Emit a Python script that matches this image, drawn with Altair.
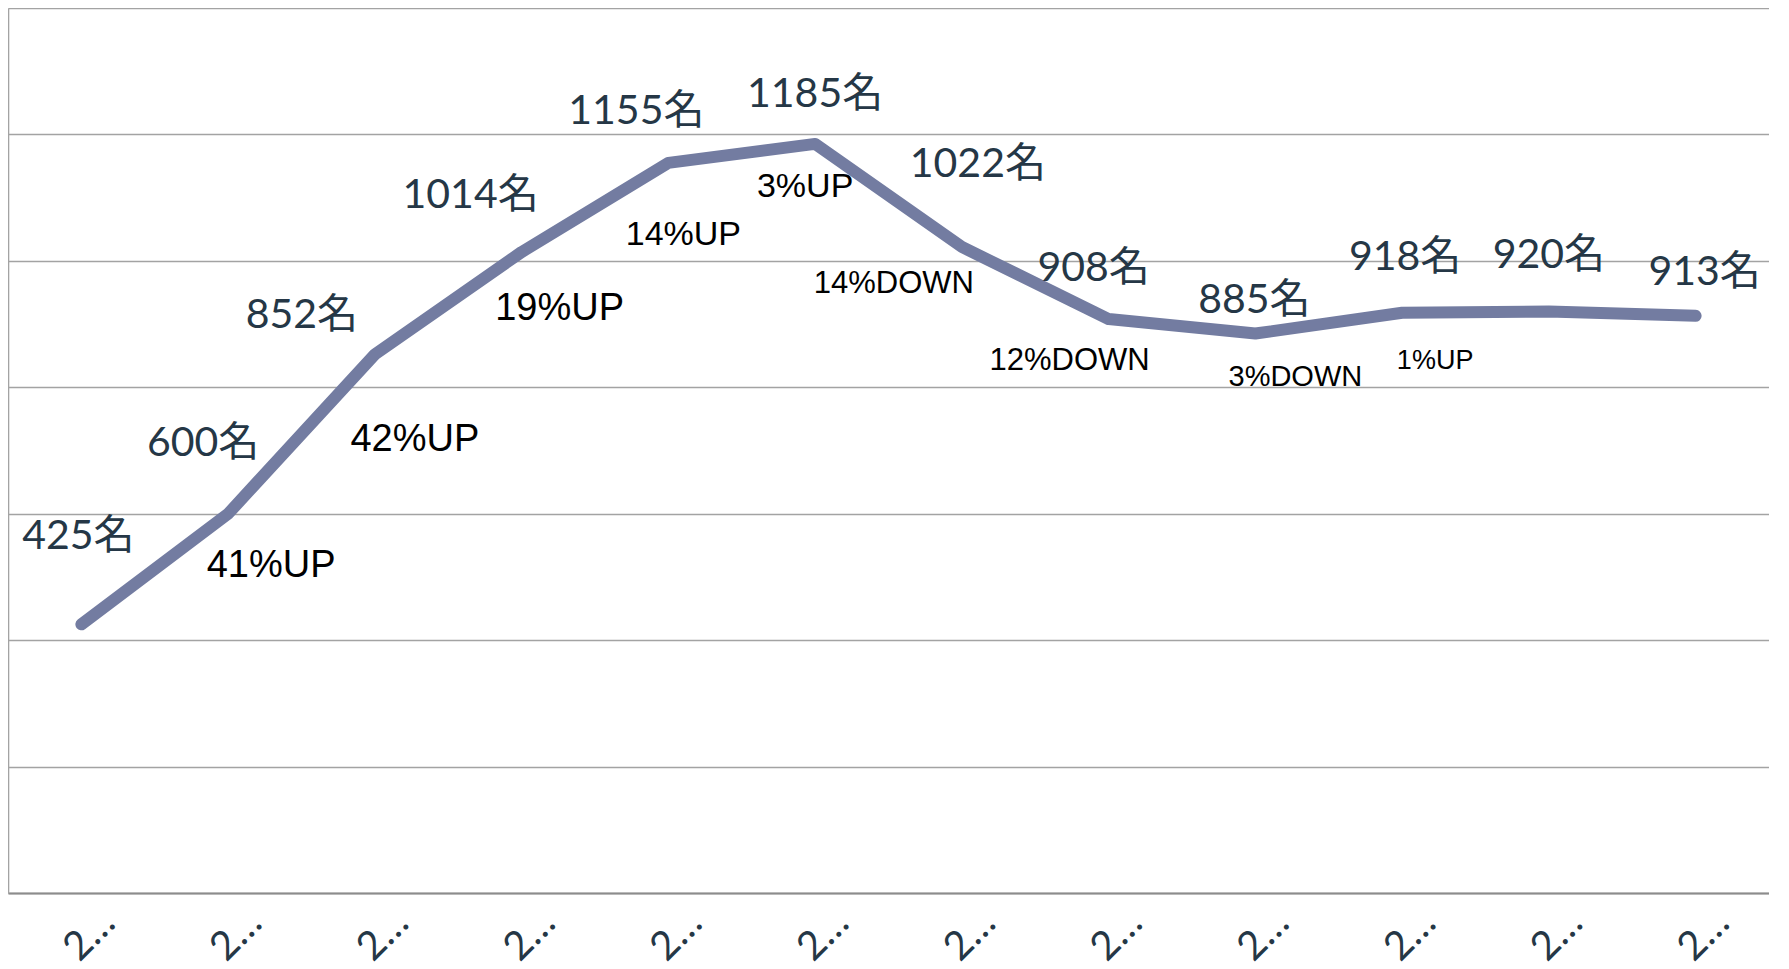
import altair as alt
import pandas as pd

# ---- data ----
years = ["2011年", "2012年", "2013年", "2014年", "2015年", "2016年",
         "2017年", "2018年", "2019年", "2020年", "2021年", "2022年"]
members = [425, 600, 852, 1014, 1155, 1185, 1022, 908, 885, 918, 920, 913]
changes = ["", "41%UP", "42%UP", "19%UP", "14%UP", "3%UP",
           "14%DOWN", "12%DOWN", "3%DOWN", "1%UP", "", ""]
y_ticks = [0, 200, 400, 600, 800, 1000, 1200, 1400]

# ---- label layout (pixel offsets of labels from their points) ----
value_dx = [-3, -25, -73, -51, -32, 0, 16, -15, -1, 3, 0, 9]
value_dy = [-87, -70, -38, -56, -51, -49, -82, -50, -33, -55, -55, -43]
change_dx = [0, 43, 40, 38, 15, -10, -68, -39, 40, 33, 0, 0]
change_dy = [0, 52, 86, 57, 72, 43, 37, 42, 43, 48, 0, 0]
change_size = [0, 38, 38, 38, 34, 34, 31, 31, 29, 27, 0, 0]

df = pd.DataFrame({
    "year": years,
    "members": members,
    "label": [f"{v}名" for v in members],
    "change": changes,
    "idx": list(range(len(years))),
})

x_enc = alt.X("year:N", sort=None, scale=alt.Scale(domain=years),
              axis=alt.Axis(title=None, ticks=False, grid=False,
                            domainColor="#8c8c8c", domainWidth=2,
                            labelAngle=315, labelAlign="center",
                            labelBaseline="middle", labelPadding=42,
                            labelOffset=8, labelLimit=66,
                            labelFont="Lato", labelFontSize=40,
                            labelColor="#253746"))
y_enc = alt.Y("members:Q", scale=alt.Scale(domain=[0, 1400], nice=False),
              axis=alt.Axis(title=None, labels=False, ticks=False,
                            values=y_ticks, grid=True,
                            gridColor="#a3a3a3", gridWidth=1.6,
                            domainColor="#a3a3a3", domainWidth=1.6))

base = alt.Chart(df)

line = base.mark_line(color="#737ca1", strokeWidth=12, strokeCap="round",
                      strokeJoin="round").encode(x=x_enc, y=y_enc)

layers = [line]
for i in range(len(years)):
    layers.append(
        base.transform_filter(alt.datum.idx == i).mark_text(
            font="Lato, 'Noto Sans CJK JP'", fontSize=41, color="#253746",
            align="center", baseline="middle",
            dx=value_dx[i], dy=value_dy[i]
        ).encode(x=alt.X("year:N", sort=None), y="members:Q", text="label:N")
    )
    if changes[i]:
        layers.append(
            base.transform_filter(alt.datum.idx == i).mark_text(
                font="'Liberation Sans', Arial, sans-serif",
                fontSize=change_size[i], color="#000000",
                align="center", baseline="middle",
                dx=change_dx[i], dy=change_dy[i]
            ).encode(x=alt.X("year:N", sort=None), y="members:Q",
                     text="change:N")
        )

chart = alt.layer(*layers).properties(
    width=1761, height=885, padding=0
).configure_view(stroke=None).configure(background="white")

chart.save("out.html", embed_options={"renderer": "svg", "actions": False})
